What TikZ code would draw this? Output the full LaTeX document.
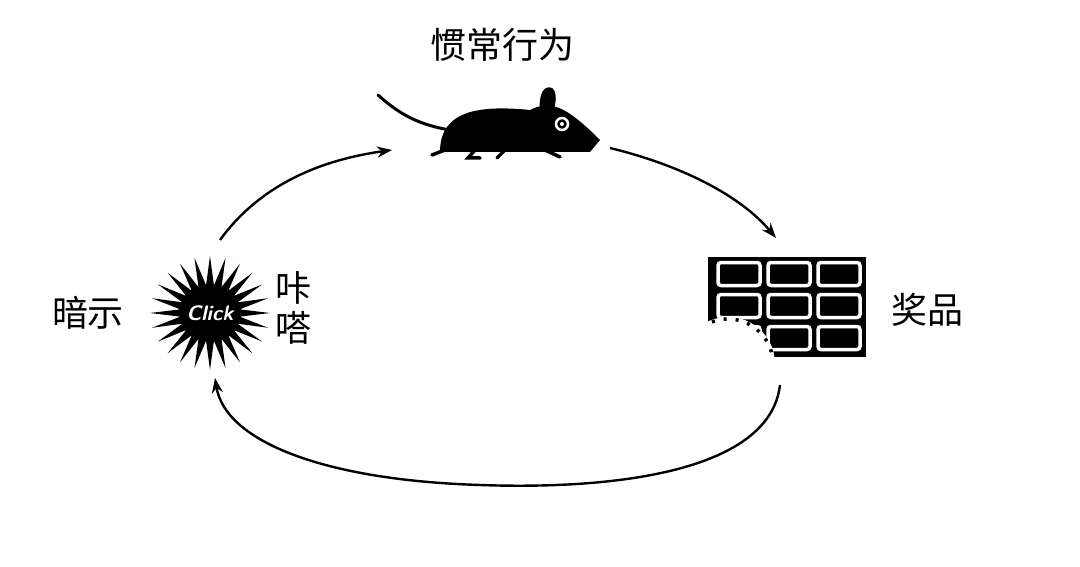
\documentclass[tikz,border=0pt]{standalone}
\usepackage{fontspec}
\newfontfamily\cjk{Noto Sans CJK SC}
\usetikzlibrary{arrows.meta,shapes.misc}
\begin{document}
\begin{tikzpicture}[x=1pt,y=-1pt,
  arc/.style={line width=2.4pt,-{Stealth[length=15pt,width=11pt]}},
  lbl/.style={font=\cjk\fontsize{36}{40}\selectfont},
  cell/.style={draw=white,line width=3.5pt,fill=black,rounded corners=3pt,minimum width=42pt,minimum height=23pt,inner sep=0pt}]
\useasboundingbox (0,0) rectangle (1080,567);
\fill[white] (0,0) rectangle (1080,567);
% nodes
\node[lbl] (habit) at (502,45) {惯常行为};
\node[lbl] (cue) at (88,313) {暗示};
\node[lbl] (reward) at (927,310) {奖品};
\node[lbl] (ka) at (293,288) {咔};
\node[lbl] (da) at (293,328) {嗒};
% starburst
\fill[black] plot[samples=49,domain=0:360,variable=\t] ({210+(mod(round(\t/7.5),2)==0 ? 60 : 30)*cos(\t)},{313+(mod(round(\t/7.5),2)==0 ? 57 : 28)*sin(\t)}) -- cycle;
\node[font=\sffamily\bfseries\itshape\fontsize{21}{22}\selectfont,text=white] (click) at (210,313) {Click};
% mouse
\coordinate (mouse) at (500,130);
\draw[line width=3pt,line cap=round] (378,95) .. controls (400,115) and (420,125) .. (450,130);
\fill[black] (440,152) .. controls (440,110) and (480,105) .. (530,110) .. controls (550,100) and (565,105) .. (600,140) -- (590,152) -- cycle;
\fill[black] (540,112) .. controls (538,92) and (545,85) .. (552,88) .. controls (558,92) and (556,105) .. (552,115) -- cycle;
\draw[white,line width=2.5pt] (562,124) circle (6pt);
\fill[white] (562,124) circle (2pt);
\draw[line width=3.5pt,line cap=round] (450,148) -- (432,155) (475,150) -- (468,158) -- (480,158) (505,150) -- (497,158) (545,150) -- (560,157);
% chocolate
\fill[black] (708,257) rectangle (866,357);
\foreach \i in {0,1,2} \foreach \j in {0,1,2}
  \node[cell] (c\i\j) at (739+\i*50,274+\j*32) {};
\begin{scope}
\clip (708,257) rectangle (866,357);
\fill[white] (728,364) circle (47pt);
\draw[line width=3.5pt,dash pattern=on 3pt off 9pt] (728,364) circle (45pt);
\end{scope}
\coordinate (cueTop) at (220,240);
\coordinate (habitL) at (392,150);
\coordinate (habitR) at (610,148);
\coordinate (rewardT) at (776,238);
\coordinate (rewardB) at (780,385);
\coordinate (cueB) at (215,378);
\draw[arc] (cueTop) .. controls (260,185) and (320,160) .. (habitL);
\draw[arc] (habitR) .. controls (680,165) and (740,195) .. (rewardT);
\draw[arc] (rewardB) .. controls (770,470) and (620,490) .. (480,485) .. controls (320,480) and (225,440) .. (cueB);
\end{tikzpicture}
\end{document}
